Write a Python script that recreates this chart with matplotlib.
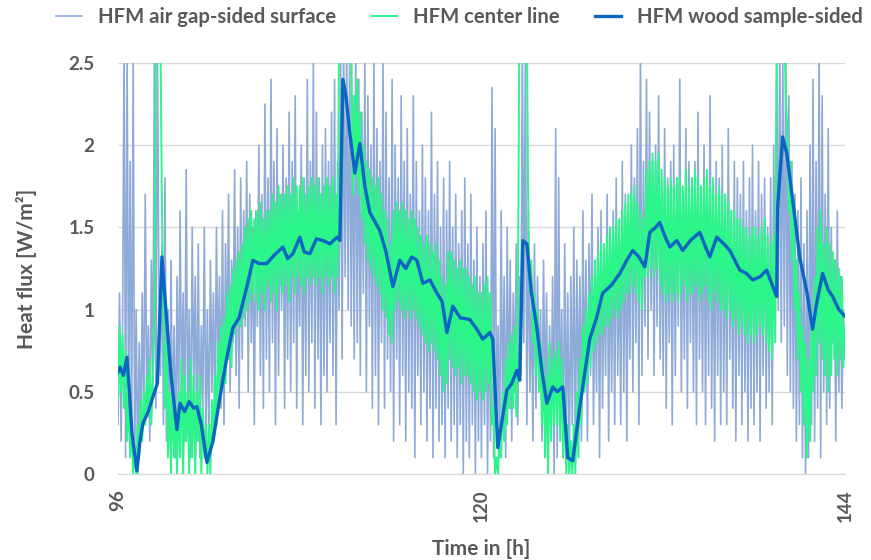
import numpy as np
import matplotlib
matplotlib.use('Agg')
import matplotlib.pyplot as plt

plt.rcParams['font.family'] = ['Lato', 'DejaVu Sans']

# time axis of the sampled HFM series (0.1 h steps from 96 h to 144 h)
t_start = 96.0
t_step = 0.1

# HFM air gap-sided surface [W/m2], one row per hour
air_gap = [
    0.3, 1.1, 0.2, 0.9, 2.6, 0.1, 2.6, 0.3, 1.9, 0.2,
    2.5, 0.1, 1.0, 0.0, 0.8, 0.2, 1.1, 0.3, 1.7, 0.4,
    0.9, 0.2, 1.3, 0.5, 2.6, 0.4, 2.6, 1.1, 0.6, 1.4,
    0.3, 1.8, 0.2, 1.0, 0.3, 1.3, 0.2, 0.9, 0.1, 1.2,
    0.3, 1.6, 0.4, 1.1, 0.2, 1.85, 0.3, 1.0, 0.1, 1.5,
    0.5, 1.2, 0.2, 1.4, 0.1, 0.9, 0.4, 1.5, 0.2, 1.0,
    0.2, 1.3, 0.5, 1.1, 0.3, 1.5, 0.6, 1.2, 0.4, 1.6,
    0.3, 1.4, 0.7, 1.7, 0.5, 1.3, 0.8, 1.85, 0.6, 1.5,
    0.4, 1.8, 0.7, 1.6, 0.9, 1.9, 0.5, 1.7, 0.8, 1.5,
    0.3, 1.6, 0.9, 2.0, 0.6, 1.7, 0.4, 2.25, 0.7, 1.8,
    0.5, 2.4, 0.8, 1.9, 0.3, 2.1, 0.6, 1.7, 1.0, 2.0,
    0.4, 1.8, 0.7, 2.2, 0.5, 1.9, 0.8, 2.3, 0.4, 1.6,
    0.9, 2.0, 0.3, 1.8, 0.6, 2.4, 0.5, 1.9, 0.8, 2.5,
    0.4, 2.2, 0.7, 1.8, 0.3, 2.0, 0.6, 2.1, 0.5, 1.9,
    0.8, 2.2, 0.6, 2.4, 0.3, 1.9, 1.0, 2.6, 0.7, 2.6,
    1.2, 2.6, 1.0, 2.6, 0.9, 2.3, 0.7, 2.6, 0.8, 2.4,
    0.6, 2.2, 1.1, 2.5, 0.5, 2.3, 0.9, 2.0, 0.4, 2.5,
    0.6, 2.1, 0.3, 1.9, 0.8, 2.5, 0.4, 2.2, 0.7, 1.8,
    0.5, 2.4, 0.2, 2.0, 0.7, 1.8, 0.3, 2.3, 0.6, 1.9,
    0.2, 2.1, 0.5, 1.7, 0.4, 2.3, 0.1, 1.9, 0.6, 1.6,
    0.3, 2.0, 0.5, 1.8, 0.2, 1.6, 0.4, 2.2, 0.1, 1.7,
    0.4, 1.9, 0.2, 1.5, 0.3, 1.8, 0.1, 1.6, 0.4, 1.9,
    0.2, 1.5, 0.3, 1.7, 0.1, 1.4, 0.3, 1.6, 0.0, 1.8,
    0.2, 1.4, 0.1, 1.7, 0.3, 1.3, 0.0, 1.5, 0.2, 1.2,
    0.1, 1.4, 0.3, 1.6, 0.0, 1.1, 0.2, 2.35, 0.1, 2.1,
    0.2, 0.9, 0.1, 1.6, 0.3, 1.2, 0.1, 1.5, 0.4, 1.3,
    0.2, 1.1, 0.5, 1.4, 0.3, 1.2, 0.6, 2.6, 0.8, 2.6,
    0.3, 1.6, 0.5, 1.1, 0.2, 1.4, 0.4, 1.2, 0.6, 1.0,
    0.2, 1.3, 0.4, 1.1, 0.1, 0.9, 0.3, 1.2, 0.0, 2.1,
    0.1, 1.8, 0.3, 1.0, 0.1, 1.4, 0.2, 1.1, 0.0, 1.2,
    0.3, 1.5, 0.1, 1.3, 0.4, 1.2, 0.2, 1.6, 0.5, 1.3,
    0.2, 1.4, 0.6, 1.7, 0.3, 1.2, 0.5, 1.5, 0.1, 1.6,
    0.4, 1.3, 0.6, 1.7, 0.2, 1.5, 0.5, 1.6, 0.3, 1.8,
    0.6, 1.4, 0.3, 1.9, 0.5, 1.7, 0.2, 1.6, 0.7, 2.0,
    0.5, 1.8, 0.8, 2.1, 0.3, 2.6, 0.6, 1.9, 0.9, 2.4,
    0.7, 2.2, 1.0, 1.9, 0.6, 2.0, 0.9, 2.3, 0.7, 1.7,
    0.6, 2.1, 0.4, 1.8, 0.8, 1.9, 0.3, 2.0, 0.6, 1.8,
    0.9, 2.4, 0.5, 1.7, 0.7, 2.1, 0.4, 1.9, 0.8, 1.8,
    0.5, 1.9, 0.3, 2.2, 0.7, 1.7, 0.5, 2.0, 0.3, 1.8,
    0.6, 2.3, 0.4, 1.7, 0.2, 1.9, 0.6, 1.8, 0.3, 2.0,
    0.5, 1.7, 0.3, 2.1, 0.7, 1.6, 0.4, 1.9, 0.2, 1.8,
    0.6, 1.7, 0.3, 1.9, 0.5, 1.6, 0.2, 1.8, 0.4, 2.0,
    0.3, 1.6, 0.5, 1.9, 0.2, 1.7, 0.6, 1.8, 0.4, 1.5,
    0.5, 1.8, 0.3, 2.0, 0.9, 2.6, 1.0, 2.6, 0.8, 2.5,
    0.9, 2.6, 0.6, 2.3, 0.5, 1.9, 0.4, 1.7, 0.2, 1.6,
    0.3, 1.8, 0.1, 1.4, 0.0, 1.6, 0.1, 2.0, 0.3, 2.4,
    0.2, 1.9, 0.4, 2.6, 0.1, 2.3, 0.5, 1.7, 0.3, 2.1,
    0.4, 1.5, 0.8, 1.3, 0.2, 1.6, 0.5, 1.2, 0.4, 1.0,
    0.7,
]

# HFM center line [W/m2], one row per hour
center = [
    0.45, 0.9, 0.5, 0.85, 0.4, 0.75, 0.2, 0.5, 0.1, 0.3,
    0.0, 0.15, 0.0, 0.3, 0.1, 0.45, 0.2, 0.5, 0.3, 0.6,
    0.35, 0.7, 0.3, 0.6, 0.9, 2.7, 2.7, 2.7, 2.7, 1.6,
    1.0, 0.4, 0.8, 0.1, 0.5, 0.0, 0.6, 0.1, 0.4, 0.0,
    0.5, 0.1, 0.7, 0.0, 0.6, 0.2, 0.5, 0.0, 0.7, 0.1,
    0.6, 0.0, 0.5, 0.2, 0.6, 0.0, 0.4, 0.1, 0.3, 0.0,
    0.3, 0.0, 0.45, 0.2, 0.6, 0.3, 0.8, 0.45, 0.9, 0.6,
    0.95, 0.55, 1.1, 0.7, 1.15, 0.65, 1.25, 0.85, 1.3, 0.9,
    1.35, 0.9, 1.4, 0.95, 1.5, 1.0, 1.55, 1.05, 1.6, 1.1,
    1.55, 1.05, 1.6, 1.0, 1.65, 1.1, 1.55, 1.0, 1.6, 1.15,
    1.6, 1.05, 1.7, 1.1, 1.65, 1.0, 1.75, 1.15, 1.7, 1.1,
    1.7, 1.15, 1.75, 1.05, 1.7, 1.2, 1.8, 1.1, 1.75, 1.2,
    1.75, 1.15, 1.8, 1.1, 1.7, 1.2, 1.75, 1.15, 1.8, 1.2,
    1.75, 1.15, 1.8, 1.2, 1.7, 1.1, 1.75, 1.2, 1.8, 1.15,
    1.75, 1.2, 1.8, 1.1, 1.7, 1.2, 2.7, 2.7, 2.7, 2.7,
    2.7, 2.7, 2.7, 2.7, 2.7, 1.7, 2.3, 1.8, 2.4, 1.7,
    2.2, 1.55, 2.0, 1.4, 1.9, 1.3, 1.85, 1.25, 1.8, 1.2,
    1.75, 1.15, 1.8, 1.1, 1.7, 1.0, 1.6, 0.95, 1.55, 0.85,
    1.4, 0.8, 1.6, 1.0, 1.65, 1.05, 1.6, 1.0, 1.65, 0.95,
    1.6, 1.0, 1.55, 0.95, 1.6, 1.0, 1.55, 0.95, 1.5, 0.9,
    1.45, 0.85, 1.4, 0.8, 1.45, 0.75, 1.4, 0.8, 1.35, 0.75,
    1.4, 0.7, 1.3, 0.6, 1.2, 0.5, 1.15, 0.55, 1.35, 0.7,
    1.35, 0.65, 1.3, 0.6, 1.25, 0.65, 1.3, 0.55, 1.25, 0.6,
    1.25, 0.6, 1.2, 0.55, 1.15, 0.5, 1.2, 0.45, 1.1, 0.5,
    1.1, 0.45, 1.15, 0.5, 1.2, 0.55, 1.1, 0.3, 0.4, 0.0,
    0.1, 0.0, 0.3, 0.1, 0.5, 0.2, 0.7, 0.3, 0.8, 0.4,
    0.85, 0.4, 0.9, 0.35, 0.85, 2.7, 2.7, 2.7, 2.7, 2.7,
    2.7, 1.5, 1.1, 1.3, 0.8, 1.1, 0.6, 1.0, 0.5, 0.8,
    0.3, 0.7, 0.1, 0.6, 0.0, 0.8, 0.2, 0.7, 0.3, 0.75,
    0.3, 0.8, 0.2, 0.7, 0.1, 0.5, 0.0, 0.3, 0.0, 0.2,
    0.0, 0.3, 0.0, 0.5, 0.1, 0.7, 0.3, 0.9, 0.5, 1.0,
    0.55, 1.1, 0.65, 1.2, 0.75, 1.3, 0.8, 1.35, 0.85, 1.4,
    0.85, 1.4, 0.9, 1.45, 0.9, 1.5, 0.95, 1.5, 1.0, 1.55,
    0.95, 1.55, 1.0, 1.6, 1.05, 1.65, 1.1, 1.7, 1.1, 1.7,
    1.15, 1.75, 1.1, 1.65, 1.05, 1.6, 1.0, 1.55, 1.2, 1.85,
    1.2, 1.9, 1.25, 1.95, 1.2, 1.9, 1.25, 1.95, 1.15, 1.85,
    1.1, 1.8, 1.05, 1.75, 1.1, 1.8, 1.05, 1.75, 1.1, 1.8,
    1.05, 1.8, 1.1, 1.75, 1.15, 1.85, 1.05, 1.75, 1.1, 1.8,
    1.1, 1.85, 1.15, 1.8, 1.05, 1.75, 1.1, 1.8, 1.15, 1.85,
    1.05, 1.75, 1.0, 1.8, 1.1, 1.7, 1.05, 1.75, 1.0, 1.7,
    1.0, 1.7, 0.95, 1.65, 1.0, 1.6, 0.9, 1.6, 0.95, 1.55,
    0.85, 1.55, 0.9, 1.5, 0.85, 1.5, 0.8, 1.45, 0.85, 1.5,
    0.8, 1.5, 0.85, 1.45, 0.9, 1.5, 0.85, 1.55, 0.8, 1.45,
    0.75, 1.4, 0.7, 1.45, 0.8, 2.7, 2.7, 2.7, 2.7, 2.7,
    2.7, 2.3, 2.1, 1.6, 1.9, 1.3, 1.6, 1.0, 1.3, 0.7,
    1.1, 0.5, 0.9, 0.3, 0.8, 0.1, 0.7, 0.2, 0.9, 0.5,
    1.2, 0.6, 1.5, 0.8, 1.6, 0.7, 1.4, 0.6, 1.5, 0.5,
    1.4, 0.6, 1.35, 0.7, 1.3, 0.6, 1.25, 0.7, 1.2, 0.65,
    0.9,
]

# HFM wood sample-sided, traced points (time [h], heat flux [W/m2])
wood_t = [96.0, 96.13, 96.35, 96.59, 96.75, 96.92, 97.1, 97.25, 97.45, 97.65,
          98.0, 98.31, 98.6, 98.9, 99.2, 99.5, 99.89, 100.09, 100.4, 100.7,
          101.0, 101.21, 101.5, 101.87, 102.27, 102.7, 103.19, 103.59, 104.0,
          104.51, 104.91, 105.3, 105.83, 106.3, 106.89, 107.2, 107.55, 108.01,
          108.3, 108.67, 109.1, 109.53, 110.0, 110.46, 110.65, 110.85, 111.05,
          111.31, 111.64, 111.97, 112.3, 112.63, 113.29, 113.7, 114.15, 114.61,
          115.0, 115.4, 115.74, 116.13, 116.6, 117.06, 117.4, 117.72, 118.11,
          118.6, 119.23, 119.7, 120.09, 120.55, 120.75, 121.08, 121.4, 121.68,
          122.0, 122.34, 122.53, 122.73, 123.0, 123.3, 123.66, 124.0, 124.32,
          124.71, 125.0, 125.37, 125.7, 126.03, 126.5, 127.15, 127.6, 128.01,
          128.6, 129.14, 129.6, 129.99, 130.4, 130.79, 131.12, 131.5, 131.78,
          132.1, 132.44, 132.9, 133.29, 133.8, 134.42, 134.8, 135.08, 135.54,
          136.0, 136.4, 137.06, 137.5, 137.91, 138.4, 138.84, 139.2, 139.5,
          139.56, 139.89, 140.16, 140.55, 141.02, 141.5, 141.87, 142.14, 142.53,
          142.9, 143.19, 143.6, 144.0]
wood_q = [0.62, 0.65, 0.6, 0.71, 0.5, 0.25, 0.12, 0.02, 0.2, 0.31,
          0.38, 0.47, 0.55, 1.32, 0.95, 0.6, 0.27, 0.43, 0.38, 0.44,
          0.4, 0.41, 0.3, 0.07, 0.2, 0.45, 0.71, 0.89, 0.95,
          1.14, 1.3, 1.28, 1.28, 1.33, 1.38, 1.31, 1.34, 1.44,
          1.35, 1.34, 1.43, 1.42, 1.4, 1.44, 1.42, 2.4, 2.3,
          2.07, 1.83, 2.01, 1.75, 1.59, 1.48, 1.35, 1.14, 1.3,
          1.25, 1.32, 1.3, 1.16, 1.18, 1.1, 1.05, 0.86, 1.02,
          0.95, 0.94, 0.88, 0.82, 0.86, 0.82, 0.16, 0.35, 0.51,
          0.55, 0.63, 0.57, 1.42, 1.4, 1.1, 0.89, 0.62, 0.43,
          0.53, 0.5, 0.53, 0.1, 0.08, 0.41, 0.82, 0.95, 1.1,
          1.15, 1.22, 1.3, 1.36, 1.32, 1.26, 1.47, 1.5, 1.53,
          1.45, 1.38, 1.42, 1.36, 1.42, 1.47, 1.38, 1.32, 1.44,
          1.4, 1.36, 1.24, 1.22, 1.18, 1.2, 1.24, 1.15, 1.08,
          1.62, 2.05, 1.95, 1.67, 1.32, 1.1, 0.88, 1.04, 1.22,
          1.12, 1.08, 1.0, 0.96]

x_ticks = [96, 120, 144]
y_ticks = [0, 0.5, 1, 1.5, 2, 2.5]
y_tick_labels = ['0', '0.5', '1', '1.5', '2', '2.5']

t_grid = t_start + t_step * np.arange(len(air_gap))
grey = '#595959'

fig = plt.figure(figsize=(8.71, 5.6), dpi=100)
ax = fig.add_axes([0.1355, 0.1536, 0.8345, 0.734])

ax.plot(t_grid, air_gap, color='#8eaad8', lw=1.2, label='HFM air gap-sided surface')
ax.plot(t_grid, center, color='#2cf58a', lw=1.4, label='HFM center line')
ax.plot(wood_t, wood_q, color='#0a66c2', lw=2.4, label='HFM wood sample-sided')

ax.set_xlim(96, 144)
ax.set_ylim(0, 2.5)
ax.set_xticks(x_ticks)
ax.set_xticklabels([str(v) for v in x_ticks], rotation=90)
ax.set_yticks(y_ticks)
ax.set_yticklabels(y_tick_labels)
ax.tick_params(length=0, labelsize=13.5, labelcolor=grey)
ax.tick_params(axis='x', pad=11)
ax.tick_params(axis='y', pad=17)
for lab in ax.get_xticklabels() + ax.get_yticklabels():
    lab.set_fontweight('bold')

ax.grid(axis='y', color='#d9d9d9', lw=1)
ax.set_axisbelow(True)
for s in ['top', 'right', 'left']:
    ax.spines[s].set_visible(False)
ax.spines['bottom'].set_color('#d9d9d9')

ax.set_xlabel('Time in [h]', fontsize=15, fontweight='bold', color=grey, va='top')
ax.xaxis.set_label_coords(0.5, -0.158)
ax.set_ylabel('Heat flux [W/m²]', fontsize=15, fontweight='bold', color=grey)
ax.yaxis.set_label_coords(-0.111, 0.5)

leg = fig.legend(loc='center', bbox_to_anchor=(0.5276, 0.97), ncol=3, frameon=False,
                 prop={'size': 14.6, 'weight': 'bold'}, handlelength=1.25,
                 handletextpad=0.8, columnspacing=1.75)
for txt in leg.get_texts():
    txt.set_color(grey)

fig.savefig('out.png', dpi=100)
